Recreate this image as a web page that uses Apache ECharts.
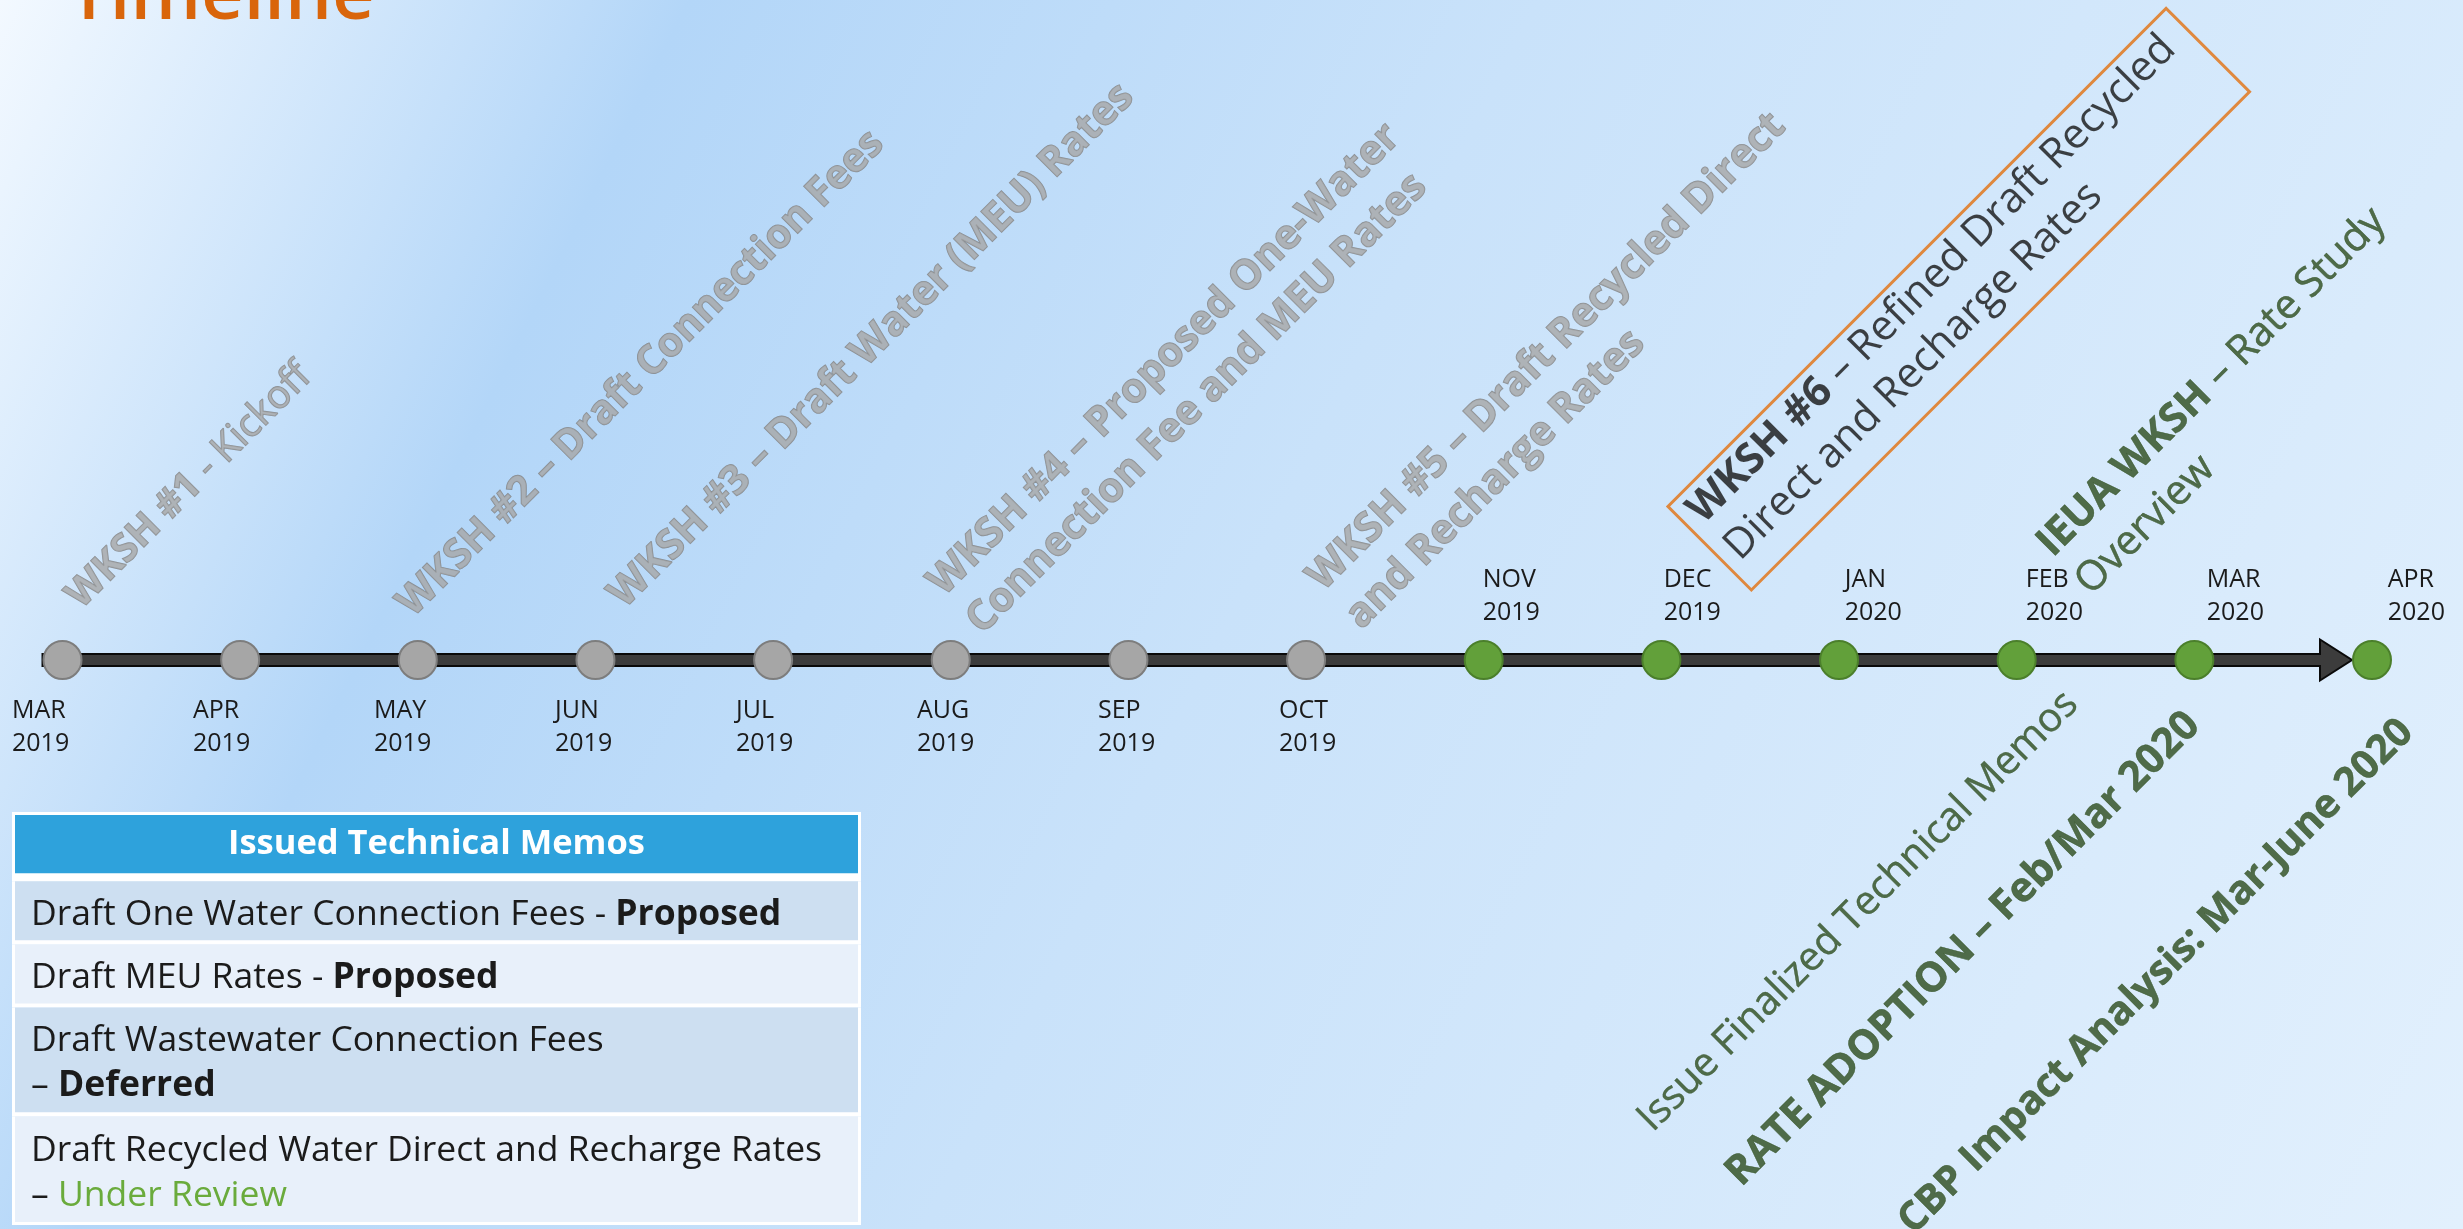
<!DOCTYPE html>
<html>
<head>
<meta charset="utf-8">
<script src="https://cdn.jsdelivr.net/npm/echarts@6.0.0/dist/echarts.min.js"></script>
<style>
html,body{margin:0;padding:0;overflow:hidden;background:#dcecfb;}
#chart{width:2463px;height:1229px;}
</style>
</head>
<body>
<div id="chart"></div>
<script>
// ================= DATA =================
const titleText = 'Timeline';

const monthNames = ['MAR','APR','MAY','JUN','JUL','AUG','SEP','OCT','NOV','DEC','JAN','FEB','MAR','APR'];
const monthYears = ['2019','2019','2019','2019','2019','2019','2019','2019','2019','2019','2020','2020','2020','2020'];
const monthState = ['done','done','done','done','done','done','done','done','ahead','ahead','ahead','ahead','ahead','ahead'];

// events: month index on the timeline, emphasised lead text, remaining text, kind
const eventMonth = [0, 2, 3, 5, 7, 9, 11, 11, 12, 13];
const eventLead = ['WKSH #1', 'WKSH #2', 'WKSH #3', 'WKSH #4', 'WKSH #5', 'WKSH #6', 'IEUA WKSH', '',
  'RATE ADOPTION \u2013 Feb/Mar 2020', 'CBP Impact Analysis: Mar-June 2020'];
const eventRest = [' - Kickoff', ' \u2013 Draft Connection Fees', ' \u2013 Draft Water (MEU) Rates',
  ' \u2013 Proposed One-Water\nConnection Fee and MEU Rates', ' \u2013 Draft Recycled Direct\nand Recharge Rates',
  ' \u2013 Refined Draft Recycled\nDirect and Recharge Rates', ' \u2013 Rate Study\nOverview',
  'Issue Finalized Technical Memos', '', ''];
const eventKind = ['held', 'held', 'held', 'held', 'held', 'next', 'planned', 'task', 'milestone', 'milestone'];

const memoHeader = 'Issued Technical Memos';
const memoNames = ['Draft One Water Connection Fees', 'Draft MEU Rates', 'Draft Wastewater Connection Fees',
  'Draft Recycled Water Direct and Recharge Rates'];
const memoBreak = [false, false, true, true];
const memoStatus = ['Proposed', 'Proposed', 'Deferred', 'Under Review'];
const memoStatusKind = ['bold', 'bold', 'bold', 'review'];

// ================= STYLE =================
const W = 2463, H = 1229;
const FONT = '"Open Sans", "Noto Sans", "DejaVu Sans", sans-serif';

const MARKER = {
  size: 38, border: 2,
  done: {fill: '#a6a6a6', stroke: '#7d7d7d'},
  ahead: {fill: '#62a03a', stroke: '#4b7f2b'}
};
// month labels: left edge offset from marker centre = base + drift * monthIndex
const MONTH_LABEL = {size: 25, lineHeight: 33, color: '#1b1b1b', drift: 3.35,
  done: {base: -49.5, y: 54}, ahead: {base: -26.8, y: -77}};
const ARROW = {shaftHalf: 6, headHalf: 20.5, headLen: 32, startPad: 20, tipGap: 20, fill: '#3c3c3c', stroke: '#0a0a0a', lw: 2};

const EV = {lh: 54, rotate: 45};
const KIND = {
  held: {side: 'above', color: '#a6a6a6', border: '#7c7c7c', borderW: 1.3},
  next: {side: 'above', color: '#141414', box: true},
  planned: {side: 'above', color: '#2c4b1b', border: '#2c4b1b', borderW: 0.5},
  task: {side: 'below', color: '#2c4b1b', border: '#2c4b1b', borderW: 0.4},
  milestone: {side: 'below', color: '#2c4b1b', border: '#2c4b1b', borderW: 0.5}
};
const eventRestBold = [false, true, true, true, true, false, false, false, false, false];
const eventSize = [39, 40.5, 41, 41, 41, 42, 41, 40, 41, 40];
// pixel nudges of each annotation anchor from its month marker centre
const eventNudge = [[30, -39], [6, -31], [40, -40], [42, -14], [66, -19], [90, -70], [85, -53], [74, 57], [18, 78], [54, 85]];
const BOX = {color: '#e2700f', width: 3, padding: [0, 22, 14, 12], lh: 52};

const TABLE = {
  grid: {left: 12, top: 812, width: 849, height: 413},
  headUnits: 1.38, rowPad: 0.35, rowLine: 0.91,
  headInset: [3, 8], rowInset: [0, 4], lastInset: [0, 3], side: 3, textX: 16, textDy: 4,
  headFill: '#2ea2dc', fills: ['#cddff1', '#e8f0fa'],
  headFont: 34.5, font: 35.5, lh: 45, text: '#1b1b1b', review: '#6aab3c'
};

// ================= BUILD =================
const lastMonth = monthNames.length - 1;

function markerSeries(state) {
  const st = MARKER[state];
  const ls = MONTH_LABEL[state];
  const data = [];
  monthState.forEach((s, i) => {
    if (s === state) data.push({
      value: [i, 0], name: monthNames[i] + '\n' + monthYears[i],
      label: {position: [ls.base + MONTH_LABEL.drift * i + MARKER.size / 2, ls.y]}
    });
  });
  return {
    type: 'scatter', xAxisIndex: 0, yAxisIndex: 0, z: 5, silent: true,
    symbol: 'circle', symbolSize: MARKER.size,
    itemStyle: {color: st.fill, borderColor: st.stroke, borderWidth: MARKER.border, opacity: 1},
    label: {
      show: true, align: 'left', verticalAlign: 'top',
      formatter: p => p.name, fontFamily: FONT, fontSize: MONTH_LABEL.size,
      lineHeight: MONTH_LABEL.lineHeight, color: MONTH_LABEL.color
    },
    data
  };
}

function eventLabel(k) {
  const kind = KIND[eventKind[k]];
  const lead = eventLead[k], rest = eventRest[k];
  let txt = '';
  if (lead) txt += '{a|' + lead + '}';
  if (rest) txt += '{b|' + rest + '}';
  const lh = kind.box ? BOX.lh : EV.lh;
  const base = {
    fontFamily: FONT, fontSize: eventSize[k], lineHeight: lh, color: kind.color,
    textBorderColor: kind.border || 'rgba(0,0,0,0)', textBorderWidth: kind.borderW || 0
  };
  const lbl = Object.assign({}, base, {
    show: true, formatter: () => txt, rotate: EV.rotate,
    position: [eventNudge[k][0] + 1, eventNudge[k][1] + 1],
    align: kind.side === 'above' ? 'left' : 'right', verticalAlign: 'bottom',
    rich: {
      a: Object.assign({}, base, {fontWeight: 'bold'}),
      b: Object.assign({}, base, {fontWeight: eventRestBold[k] ? 'bold' : 'normal'})
    }
  });
  if (kind.box) Object.assign(lbl, {borderColor: BOX.color, borderWidth: BOX.width, padding: BOX.padding});
  return lbl;
}

const eventData = eventMonth.map((m, k) => ({value: [m, 0], label: eventLabel(k)}));

// table rows (header + memos) laid on a unit scale
const memoLines = memoBreak.map(b => b ? 2 : 1);
const rowUnits = [TABLE.headUnits].concat(memoLines.map(l => TABLE.rowPad + TABLE.rowLine * l));
let acc = 0;
const tableData = rowUnits.map((u, i) => { const d = [0.5, acc, acc + u, i]; acc += u; return d; });
const tableTotal = acc;

function memoRich(i) {
  const sep = memoBreak[i] ? '\n\u2013 ' : ' - ';
  const tag = memoStatusKind[i] === 'review' ? 'g' : 'b';
  return '{n|' + memoNames[i] + sep + '}{' + tag + '|' + memoStatus[i] + '}';
}

function renderTable(params, api) {
  const r = api.value(3);
  const tl = api.coord([0, api.value(1)]);
  const br = api.coord([1, api.value(2)]);
  const isHead = r === 0;
  const ins = isHead ? TABLE.headInset : (r === rowUnits.length - 1 ? TABLE.lastInset : TABLE.rowInset);
  const fx = tl[0] + TABLE.side, fy = tl[1] + ins[0];
  const fw = br[0] - tl[0] - 2 * TABLE.side, fh = br[1] - tl[1] - ins[0] - ins[1];
  const children = [
    {type: 'rect', shape: {x: tl[0], y: tl[1], width: br[0] - tl[0], height: br[1] - tl[1]}, style: {fill: '#ffffff'}},
    {type: 'rect', shape: {x: fx, y: fy, width: fw, height: fh},
      style: {fill: isHead ? TABLE.headFill : TABLE.fills[(r - 1) % 2]}}
  ];
  if (isHead) {
    children.push({type: 'text', x: fx + fw / 2, y: fy + fh / 2, style: {
      text: memoHeader, fill: '#ffffff', fontSize: TABLE.headFont, fontWeight: 'bold', fontFamily: FONT,
      align: 'center', verticalAlign: 'middle'}});
  } else {
    const base = {fontSize: TABLE.font, fontFamily: FONT, fill: TABLE.text, lineHeight: TABLE.lh};
    children.push({type: 'text', x: fx + TABLE.textX, y: fy + fh / 2 + TABLE.textDy, style: {
      text: memoRich(r - 1), align: 'left', verticalAlign: 'middle', lineHeight: TABLE.lh,
      fontSize: TABLE.font, fontFamily: FONT, fill: TABLE.text,
      rich: {
        n: Object.assign({}, base, {fontWeight: 'normal'}),
        b: Object.assign({}, base, {fontWeight: 'bold'}),
        g: Object.assign({}, base, {fontWeight: 'normal', fill: TABLE.review})
      }}});
  }
  return {type: 'group', children};
}

function renderArrow(params, api) {
  const a = api.coord([api.value(0), api.value(1)]);
  const b = api.coord([api.value(2), api.value(1)]);
  const x0 = a[0] - ARROW.startPad, tip = b[0] - ARROW.tipGap, y = a[1];
  const hs = ARROW.shaftHalf, hh = ARROW.headHalf, hl = ARROW.headLen;
  return {
    type: 'polygon',
    shape: {points: [[x0, y - hs], [tip - hl, y - hs], [tip - hl, y - hh], [tip, y], [tip - hl, y + hh], [tip - hl, y + hs], [x0, y + hs]]},
    style: {fill: ARROW.fill, stroke: ARROW.stroke, lineWidth: ARROW.lw, lineJoin: 'miter'}
  };
}

const chart = echarts.init(document.getElementById('chart'), null, {renderer: 'canvas', width: W, height: H});
chart.setOption({
  animation: false,
  textStyle: {fontFamily: FONT},
  graphic: [
    {type: 'rect', z: 0, silent: true, shape: {x: 0, y: 0, width: W, height: H},
      style: {fill: new echarts.graphic.LinearGradient(0, 0, 1, 1, [
        {offset: 0, color: '#f3f9ff'},
        {offset: 0.224, color: '#b3d6f8'},
        {offset: 0.5, color: '#c9e2fa'},
        {offset: 1, color: '#e2f0fd'}
      ])}},
    {type: 'text', z: 100, silent: true, x: 68, y: -2, style: {
      text: titleText, fill: '#d9650b', fontSize: 74, fontWeight: 600, fontFamily: FONT, verticalAlign: 'middle'}}
  ],
  grid: [
    {left: 62.5, right: 91, top: 560, height: 200, show: false, outerBoundsMode: 'none'},
    Object.assign({show: false, outerBoundsMode: 'none'}, TABLE.grid)
  ],
  xAxis: [
    {type: 'value', gridIndex: 0, min: 0, max: lastMonth, show: false},
    {type: 'value', gridIndex: 1, min: 0, max: 1, show: false}
  ],
  yAxis: [
    {type: 'value', gridIndex: 0, min: -1, max: 1, show: false},
    {type: 'value', gridIndex: 1, min: 0, max: tableTotal, inverse: true, show: false}
  ],
  series: [
    {type: 'custom', xAxisIndex: 0, yAxisIndex: 0, z: 3, silent: true, clip: false,
      renderItem: renderArrow, encode: {x: [0, 2], y: 1}, data: [[0, 0, lastMonth]]},
    markerSeries('done'),
    markerSeries('ahead'),
    {type: 'scatter', xAxisIndex: 0, yAxisIndex: 0, z: 6, silent: true, symbol: 'circle', symbolSize: 2,
      itemStyle: {color: 'rgba(0,0,0,0)'}, data: eventData},
    {type: 'custom', xAxisIndex: 1, yAxisIndex: 1, z: 4, silent: true, clip: false,
      renderItem: renderTable, encode: {x: 0, y: [1, 2]}, data: tableData}
  ]
});
</script>
</body>
</html>
